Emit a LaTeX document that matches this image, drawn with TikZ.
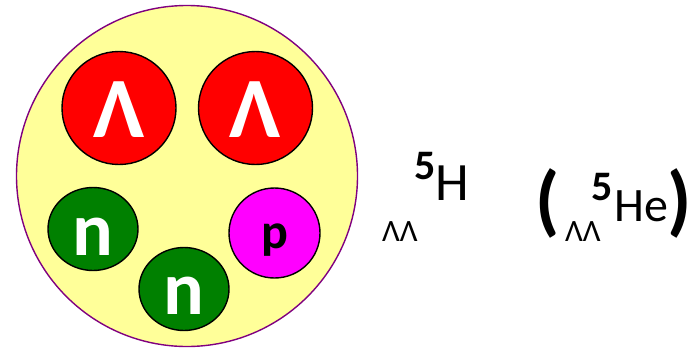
\documentclass[tikz,border=0pt]{standalone}
\usepackage{fontspec}
\setmainfont{Carlito}
\usetikzlibrary{shapes.geometric}
\definecolor{nucfill}{HTML}{FFFF99}
\definecolor{nucrim}{HTML}{800080}
\definecolor{lamred}{HTML}{FF0000}
\definecolor{neugreen}{HTML}{008000}
\definecolor{promag}{HTML}{FF00FF}
\tikzset{
  core/.style={draw=nucrim, circle, line width=1.4pt, fill=nucfill, minimum size=341pt, inner sep=0pt},
  lam/.style={draw, ellipse, line width=1.4pt, fill=lamred, minimum width=114pt, minimum height=113pt, inner sep=0pt},
  neu/.style={draw, ellipse, line width=1.4pt, fill=neugreen, minimum width=90pt, minimum height=83pt, inner sep=0pt},
  pro/.style={draw, ellipse, line width=1.4pt, fill=promag, minimum width=91pt, minimum height=90pt, inner sep=0pt},
  inlabel/.style={inner sep=0pt, text=white, font=\bfseries\fontsize{86}{86}\selectfont},
  sym/.style={inner sep=0pt, anchor=base west}
}

\begin{document}
\begin{tikzpicture}[x=1pt, y=-1pt]
  \useasboundingbox (0,0) rectangle (700,348);
  % nucleus and its particles
  \node[core] (nucleus) at (187,176) {};
  \node[lam] (lamA) at (119,108) {};
  \node[lam] (lamB) at (255.5,108) {};
  \node[neu] (neuA) at (93,229) {};
  \node[neu] (neuB) at (184,289) {};
  \node[pro] (prot) at (274.5,233) {};
  \node[inlabel, yshift=-2pt] (lamAtxt) at (lamA.center) {Λ};
  \node[inlabel, yshift=-2pt] (lamBtxt) at (lamB.center) {Λ};
  \node[inlabel, font=\bfseries\fontsize{76}{76}\selectfont, yshift=-8pt] (neuAtxt) at (neuA.center) {n};
  \node[inlabel, font=\bfseries\fontsize{76}{76}\selectfont, yshift=-7pt] (neuBtxt) at (neuB.center) {n};
  \node[inlabel, text=black, font=\bfseries\fontsize{50}{50}\selectfont, anchor=base] (prottxt) at (275,248) {p};

  % isotope symbols
  \node[sym, font=\bfseries\fontsize{42}{42}\selectfont] (massH) at (414,179) {5};
  \node[sym, font=\fontsize{54}{54}\selectfont] (elemH) at (435,200) {H};
  \node[sym, font=\fontsize{31}{31}\selectfont] (hypH) at (382,241) {ΛΛ};
  \node[inner sep=0pt, font=\bfseries\fontsize{78}{78}\selectfont] (lparen) at (548,203) {(};
  \node[sym, font=\bfseries\fontsize{42}{42}\selectfont] (massHe) at (591,200) {5};
  \node[sym, font=\fontsize{48}{48}\selectfont] (elemHe) at (614,221) {He};
  \node[sym, font=\fontsize{31}{31}\selectfont] (hypHe) at (565,241) {ΛΛ};
  \node[inner sep=0pt, font=\bfseries\fontsize{78}{78}\selectfont] (rparen) at (680,203) {)};
\end{tikzpicture}
\end{document}
